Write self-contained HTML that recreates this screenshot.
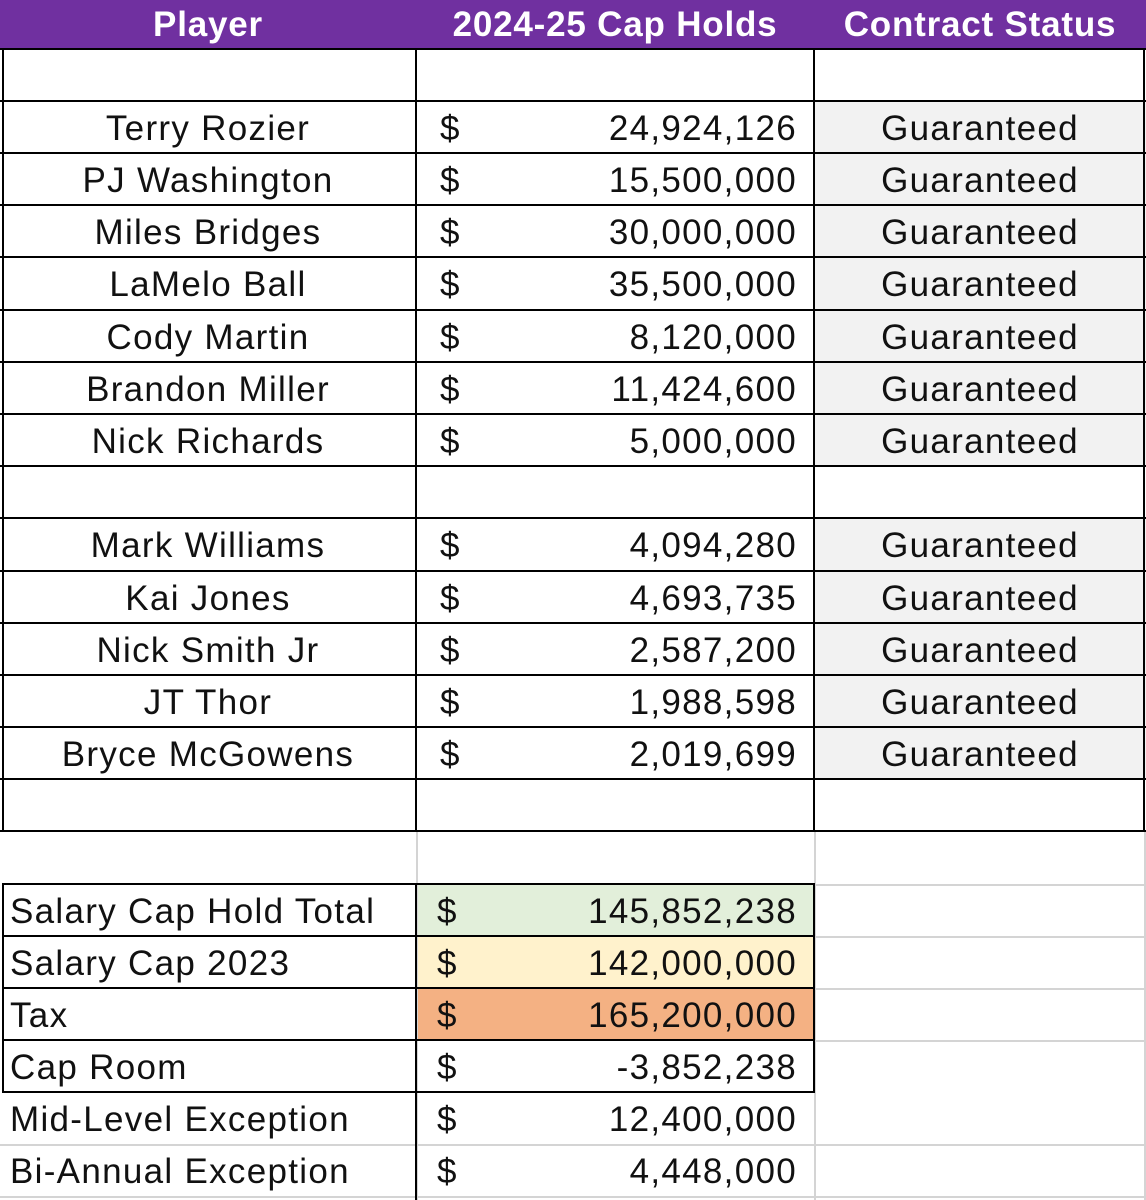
<!DOCTYPE html>
<html><head><meta charset="utf-8"><style>
body{margin:0;width:1146px;height:1200px;background:#fff;position:relative;overflow:hidden;font-family:"Liberation Sans",Arial,sans-serif;color:#111}
.a{position:absolute}
.t{position:absolute;font-size:35px;letter-spacing:1.3px;line-height:54px;white-space:nowrap}
.h{background:#000}
.g{background:#d4d4d4}
</style></head><body>
<div class="a" style="left:0;top:0;width:1146px;height:49px;background:#7030a0"></div>
<div class="t" style="left:0;width:416px;top:0;line-height:49px;text-align:center;color:#fff;font-weight:bold;letter-spacing:0.8px">Player</div>
<div class="t" style="left:416px;width:398px;top:0;line-height:49px;text-align:center;color:#fff;font-weight:bold;letter-spacing:0.8px">2024-25 Cap Holds</div>
<div class="t" style="left:814px;width:332px;top:0;line-height:49px;text-align:center;color:#fff;font-weight:bold;letter-spacing:0.8px">Contract Status</div>

<div class="a" style="left:814px;top:101px;width:332px;height:365px;background:#f2f2f2"></div>
<div class="a" style="left:814px;top:518px;width:332px;height:261px;background:#f2f2f2"></div>
<div class="a" style="left:416px;top:884px;width:398px;height:52px;background:#e2efda"></div>
<div class="a" style="left:416px;top:936px;width:398px;height:52px;background:#fff2cc"></div>
<div class="a" style="left:416px;top:988px;width:398px;height:52px;background:#f4b183"></div>

<div class="a g" style="left:814px;top:884px;width:332px;height:2px"></div>
<div class="a g" style="left:814px;top:936px;width:332px;height:2px"></div>
<div class="a g" style="left:814px;top:988px;width:332px;height:2px"></div>
<div class="a g" style="left:814px;top:1040px;width:332px;height:2px"></div>
<div class="a g" style="left:0;top:1144px;width:1146px;height:2px"></div>
<div class="a g" style="left:0;top:1196px;width:1146px;height:2px"></div>
<div class="a g" style="left:416px;top:831px;width:2px;height:369px"></div>
<div class="a g" style="left:814px;top:831px;width:2px;height:369px"></div>
<div class="a g" style="left:1144px;top:831px;width:2px;height:369px"></div>

<div class="a h" style="left:0;top:48px;width:1146px;height:2px"></div>
<div class="a h" style="left:0;top:100px;width:1146px;height:2px"></div>
<div class="a h" style="left:0;top:152px;width:1146px;height:2px"></div>
<div class="a h" style="left:0;top:204px;width:1146px;height:2px"></div>
<div class="a h" style="left:0;top:256px;width:1146px;height:2px"></div>
<div class="a h" style="left:0;top:309px;width:1146px;height:2px"></div>
<div class="a h" style="left:0;top:361px;width:1146px;height:2px"></div>
<div class="a h" style="left:0;top:413px;width:1146px;height:2px"></div>
<div class="a h" style="left:0;top:465px;width:1146px;height:2px"></div>
<div class="a h" style="left:0;top:517px;width:1146px;height:2px"></div>
<div class="a h" style="left:0;top:570px;width:1146px;height:2px"></div>
<div class="a h" style="left:0;top:622px;width:1146px;height:2px"></div>
<div class="a h" style="left:0;top:674px;width:1146px;height:2px"></div>
<div class="a h" style="left:0;top:726px;width:1146px;height:2px"></div>
<div class="a h" style="left:0;top:778px;width:1146px;height:2px"></div>
<div class="a h" style="left:0;top:830px;width:1146px;height:2px"></div>
<div class="a h" style="left:2px;top:48px;width:2px;height:784px"></div>
<div class="a h" style="left:415px;top:48px;width:2px;height:784px"></div>
<div class="a h" style="left:813px;top:48px;width:2px;height:784px"></div>
<div class="a h" style="left:1143px;top:48px;width:2px;height:784px"></div>

<div class="a h" style="left:2px;top:883px;width:813px;height:2px"></div>
<div class="a h" style="left:2px;top:935px;width:813px;height:2px"></div>
<div class="a h" style="left:2px;top:987px;width:813px;height:2px"></div>
<div class="a h" style="left:2px;top:1039px;width:813px;height:2px"></div>
<div class="a h" style="left:2px;top:1091px;width:813px;height:2px"></div>
<div class="a h" style="left:2px;top:883px;width:2px;height:210px"></div>
<div class="a h" style="left:415px;top:883px;width:2px;height:317px"></div>
<div class="a h" style="left:813px;top:883px;width:2px;height:210px"></div>

<div class="t" style="left:0;width:416px;top:102px;text-align:center">Terry Rozier</div>
<div class="t" style="left:0;width:416px;top:154px;text-align:center">PJ Washington</div>
<div class="t" style="left:0;width:416px;top:206px;text-align:center">Miles Bridges</div>
<div class="t" style="left:0;width:416px;top:258px;text-align:center">LaMelo Ball</div>
<div class="t" style="left:0;width:416px;top:311px;text-align:center">Cody Martin</div>
<div class="t" style="left:0;width:416px;top:363px;text-align:center">Brandon Miller</div>
<div class="t" style="left:0;width:416px;top:415px;text-align:center">Nick Richards</div>
<div class="t" style="left:0;width:416px;top:519px;text-align:center">Mark Williams</div>
<div class="t" style="left:0;width:416px;top:572px;text-align:center">Kai Jones</div>
<div class="t" style="left:0;width:416px;top:624px;text-align:center">Nick Smith Jr</div>
<div class="t" style="left:0;width:416px;top:676px;text-align:center">JT Thor</div>
<div class="t" style="left:0;width:416px;top:728px;text-align:center">Bryce McGowens</div>

<div class="t" style="left:440px;top:102px">$</div><div class="t" style="right:349px;top:102px">24,924,126</div>
<div class="t" style="left:440px;top:154px">$</div><div class="t" style="right:349px;top:154px">15,500,000</div>
<div class="t" style="left:440px;top:206px">$</div><div class="t" style="right:349px;top:206px">30,000,000</div>
<div class="t" style="left:440px;top:258px">$</div><div class="t" style="right:349px;top:258px">35,500,000</div>
<div class="t" style="left:440px;top:311px">$</div><div class="t" style="right:349px;top:311px">8,120,000</div>
<div class="t" style="left:440px;top:363px">$</div><div class="t" style="right:349px;top:363px">11,424,600</div>
<div class="t" style="left:440px;top:415px">$</div><div class="t" style="right:349px;top:415px">5,000,000</div>
<div class="t" style="left:440px;top:519px">$</div><div class="t" style="right:349px;top:519px">4,094,280</div>
<div class="t" style="left:440px;top:572px">$</div><div class="t" style="right:349px;top:572px">4,693,735</div>
<div class="t" style="left:440px;top:624px">$</div><div class="t" style="right:349px;top:624px">2,587,200</div>
<div class="t" style="left:440px;top:676px">$</div><div class="t" style="right:349px;top:676px">1,988,598</div>
<div class="t" style="left:440px;top:728px">$</div><div class="t" style="right:349px;top:728px">2,019,699</div>

<div class="t" style="left:814px;width:332px;top:102px;text-align:center">Guaranteed</div>
<div class="t" style="left:814px;width:332px;top:154px;text-align:center">Guaranteed</div>
<div class="t" style="left:814px;width:332px;top:206px;text-align:center">Guaranteed</div>
<div class="t" style="left:814px;width:332px;top:258px;text-align:center">Guaranteed</div>
<div class="t" style="left:814px;width:332px;top:311px;text-align:center">Guaranteed</div>
<div class="t" style="left:814px;width:332px;top:363px;text-align:center">Guaranteed</div>
<div class="t" style="left:814px;width:332px;top:415px;text-align:center">Guaranteed</div>
<div class="t" style="left:814px;width:332px;top:519px;text-align:center">Guaranteed</div>
<div class="t" style="left:814px;width:332px;top:572px;text-align:center">Guaranteed</div>
<div class="t" style="left:814px;width:332px;top:624px;text-align:center">Guaranteed</div>
<div class="t" style="left:814px;width:332px;top:676px;text-align:center">Guaranteed</div>
<div class="t" style="left:814px;width:332px;top:728px;text-align:center">Guaranteed</div>

<div class="t" style="left:10px;top:885px">Salary Cap Hold Total</div>
<div class="t" style="left:10px;top:937px">Salary Cap 2023</div>
<div class="t" style="left:10px;top:989px">Tax</div>
<div class="t" style="left:10px;top:1041px">Cap Room</div>
<div class="t" style="left:10px;top:1093px">Mid-Level Exception</div>
<div class="t" style="left:10px;top:1145px">Bi-Annual Exception</div>

<div class="t" style="left:437px;top:885px">$</div><div class="t" style="right:349px;top:885px">145,852,238</div>
<div class="t" style="left:437px;top:937px">$</div><div class="t" style="right:349px;top:937px">142,000,000</div>
<div class="t" style="left:437px;top:989px">$</div><div class="t" style="right:349px;top:989px">165,200,000</div>
<div class="t" style="left:437px;top:1041px">$</div><div class="t" style="right:349px;top:1041px">-3,852,238</div>
<div class="t" style="left:437px;top:1093px">$</div><div class="t" style="right:349px;top:1093px">12,400,000</div>
<div class="t" style="left:437px;top:1145px">$</div><div class="t" style="right:349px;top:1145px">4,448,000</div>
</body></html>
